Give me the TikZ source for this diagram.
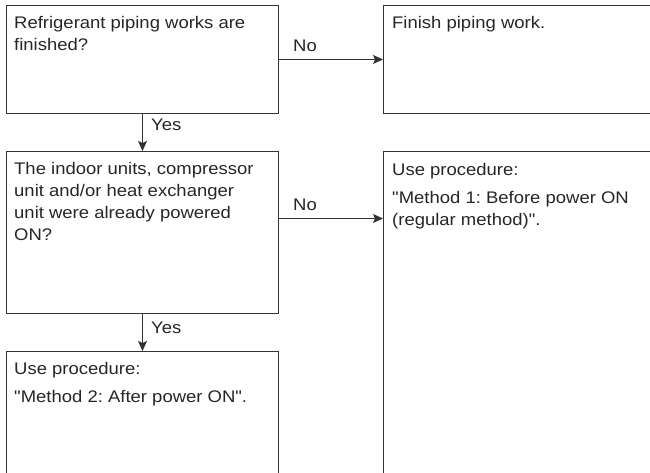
\documentclass[tikz,border=0pt]{standalone}
\usepackage{fontspec}
\setmainfont{Liberation Sans}[FakeStretch=1.1, Ligatures=TeXOff]
\usetikzlibrary{arrows.meta}
\frenchspacing
\begin{document}
\begin{tikzpicture}[x=1pt,y=-1pt,
  box/.style={draw=black!80, line width=1pt, anchor=north west, inner sep=0pt},
  txt/.style={anchor=north west, inner sep=0pt, align=left, text=black!85,
    font=\fontsize{16.8}{22}\selectfont},
  lab/.style={anchor=base west, inner sep=0pt, text=black!85,
    font=\fontsize{16.8}{22}\selectfont},
  arr/.style={draw=black!80, line width=1pt, -{Stealth[length=10pt,width=9pt,inset=2pt]}}]
\useasboundingbox (0,0) rectangle (650,473);
% boxes
\node[box, minimum width=272pt, minimum height=108pt] (b1) at (6,5) {};
\node[box, minimum width=270pt, minimum height=108pt] (b2) at (383,5) {};
\node[box, minimum width=272pt, minimum height=162pt] (b3) at (6,151) {};
\node[box, minimum width=270pt, minimum height=324pt] (b4) at (383,151) {};
\node[box, minimum width=272pt, minimum height=123pt] (b5) at (6,351) {};
% texts
\node[txt] (t1) at (14,15.8) {Refrigerant piping works are\\finished?};
\node[txt] (t2) at (392,15.8) {Finish piping work.};
\node[txt] (t3) at (14,161.8) {The indoor units, compressor\\unit and/or heat exchanger\\unit were already powered\\ON?};
\node[txt] (t4) at (392,162.8) {Use procedure:\\[6pt]"Method 1: Before power ON\\(regular method)".};
\node[txt] (t5) at (14,361.8) {Use procedure:\\[6pt]"Method 2: After power ON".};
% connectors
\draw[arr] (b1.east) -- (b2.west);
\draw[arr] (b1.south) -- (b3.north);
\draw[arr] ([yshift=14pt]b3.east) -- ([yshift=14pt]b3.east -| b4.west);
\draw[arr] (b3.south) -- (b5.north);
% labels
\node[lab] (no1) at (293,52) {No};
\node[lab] (no2) at (293,210) {No};
\node[lab] (yes1) at (151,131) {Yes};
\node[lab] (yes2) at (151,333) {Yes};
\end{tikzpicture}
\end{document}
